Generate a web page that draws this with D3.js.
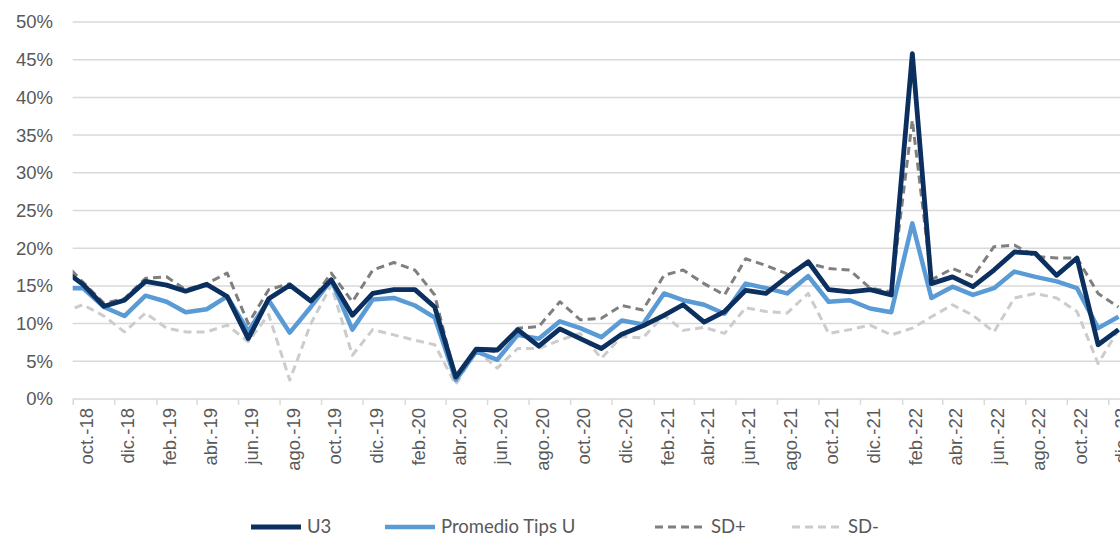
<!DOCTYPE html>
<html>
<head>
<meta charset="utf-8">
<script src="https://cdn.jsdelivr.net/npm/d3@7"></script>
<style>
  body { margin: 0; background: #fff; }
  svg { display: block; font-family: Lato, "Liberation Sans", sans-serif; }
</style>
</head>
<body>
<div id="chart"></div>
<script>
// monthly series, first value is sep-18 (partly cut by the axis start), last is dic-22
var firstMonth = new Date(2018, 8, 16);
var u3 = [17.2, 15.2, 12.3, 13.1, 15.6, 15.1, 14.3, 15.2, 13.6, 8.0, 13.3, 15.1, 13.0, 15.8, 11.1, 14.0, 14.5, 14.5, 12.2,
  2.9, 6.6, 6.5, 9.2, 7.0, 9.3, 8.0, 6.7, 8.6, 9.7, 11.1, 12.5, 10.2, 11.6, 14.4, 14.0, 16.2, 18.2, 14.5, 14.2, 14.5, 13.8,
  45.8, 15.3, 16.2, 14.9, 17.1, 19.5, 19.3, 16.4, 18.7, 7.2, 9.2];
var promedioTipsU = [14.7, 14.7, 12.2, 11.0, 13.7, 12.9, 11.5, 11.9, 13.6, 9.0, 13.1, 8.8, 12.2, 15.8, 9.2, 13.2, 13.4, 12.4, 10.8,
  2.5, 6.3, 5.2, 8.5, 8.0, 10.3, 9.4, 8.2, 10.4, 9.9, 14.0, 13.1, 12.5, 11.3, 15.3, 14.7, 14.0, 16.3, 12.9, 13.1, 12.0, 11.5,
  23.3, 13.4, 14.9, 13.8, 14.7, 16.9, 16.2, 15.6, 14.7, 9.4, 10.9];
var sdPlus = [18.3, 15.5, 12.7, 13.3, 16.0, 16.2, 14.5, 15.3, 16.7, 10.0, 14.5, 15.3, 12.9, 16.7, 12.9, 17.1, 18.1, 17.1, 13.8,
  2.6, 6.7, 6.2, 9.4, 9.6, 12.9, 10.5, 10.7, 12.4, 11.8, 16.4, 17.1, 15.3, 13.8, 18.6, 17.7, 16.6, 18.0, 17.3, 17.1, 14.7, 14.2,
  37.0, 15.8, 17.3, 16.2, 20.2, 20.4, 18.9, 18.7, 18.7, 14.0, 12.2];
var sdMinus = [11.5, 12.5, 11.0, 8.9, 11.4, 9.4, 8.9, 8.9, 9.8, 7.6, 11.2, 2.5, 10.0, 15.1, 5.8, 9.2, 8.5, 7.8, 7.2,
  1.9, 6.5, 4.1, 6.7, 6.7, 7.8, 8.7, 5.4, 8.3, 8.1, 11.1, 9.1, 9.5, 8.7, 12.1, 11.6, 11.4, 14.0, 8.7, 9.2, 9.8, 8.5,
  9.4, 10.9, 12.5, 11.1, 8.9, 13.4, 14.0, 13.4, 11.6, 4.7, 9.2];
var monthNames = ["ene.", "feb.", "mar.", "abr.", "may.", "jun.", "jul.", "ago.", "sep.", "oct.", "nov.", "dic."];
var yTicks = [0, 5, 10, 15, 20, 25, 30, 35, 40, 45, 50];

var series = [
  { name: "U3", values: u3, color: "#0b2f5e", width: 4.8, dash: null },
  { name: "Promedio Tips U", values: promedioTipsU, color: "#5b9bd5", width: 4.5, dash: null },
  { name: "SD+", values: sdPlus, color: "#7f7f7f", width: 3, dash: "8,5" },
  { name: "SD-", values: sdMinus, color: "#cccccc", width: 3, dash: "8,5" }
];

const width = 1120;
const height = 537;
const plotLeft = 72.7;
const plotTop = 22;
const plotBottom = 399;
const fontSize = "18.5px";

var dates = u3.map(function(d, i) { return d3.timeMonth.offset(firstMonth, i); });

var x = d3.scaleTime().domain([new Date(2018, 9, 1), new Date(2022, 11, 1)]).range([plotLeft, 1108.3]);
var y = d3.scaleLinear().domain([0, 50]).range([plotBottom, plotTop]);

var svg = d3.select("#chart").append("svg")
  .attr("width", width)
  .attr("height", height);

svg.append("defs").append("clipPath").attr("id", "plotclip")
  .append("rect").attr("x", plotLeft).attr("y", 0).attr("width", width - plotLeft).attr("height", height);

// horizontal gridlines
svg.append("g")
  .selectAll("line")
  .data(yTicks.filter(function(d) { return d > 0; }))
  .enter().append("line")
  .attr("x1", plotLeft).attr("x2", width)
  .attr("y1", function(d) { return y(d); })
  .attr("y2", function(d) { return y(d); })
  .attr("stroke", "#d9d9d9")
  .attr("stroke-width", 1.5);

// y labels
var yAxis = svg.append("g")
  .attr("transform", "translate(" + 53 + ",0)")
  .call(d3.axisLeft(y).tickValues(yTicks).tickSize(0).tickFormat(function(d) { return d + "%"; }));
yAxis.select(".domain").remove();
yAxis.selectAll("text")
  .attr("x", 0)
  .attr("fill", "#595959")
  .style("font-size", fontSize);

// x axis
var tickDates = d3.timeMonth.range(new Date(2018, 9, 1), new Date(2023, 0, 2), 2);
var xAxis = svg.append("g")
  .attr("transform", "translate(0," + plotBottom + ")")
  .call(d3.axisBottom(x).tickValues(tickDates).tickSize(6).tickSizeOuter(0)
    .tickFormat(function(d) { return monthNames[d.getMonth()] + "-" + String(d.getFullYear()).slice(2); }));
xAxis.select(".domain").attr("d", "M" + plotLeft + ",0H" + width).attr("stroke", "#d9d9d9").attr("stroke-width", 1.5);
xAxis.selectAll(".tick line").attr("stroke", "#d9d9d9").attr("stroke-width", 1.5);
xAxis.selectAll(".tick text")
  .attr("fill", "#595959")
  .style("font-size", fontSize)
  .attr("text-anchor", "end")
  .attr("y", 0)
  .attr("dy", "0.35em")
  .attr("transform", "translate(13,9) rotate(-90)");

// series lines, drawn back to front
var line = d3.line()
  .x(function(d, i) { return x(dates[i]); })
  .y(function(d) { return y(d); });

var plot = svg.append("g").attr("clip-path", "url(#plotclip)");
series.slice().reverse().forEach(function(s) {
  plot.append("path")
    .datum(s.values)
    .attr("fill", "none")
    .attr("stroke", s.color)
    .attr("stroke-width", s.width)
    .attr("stroke-dasharray", s.dash)
    .attr("stroke-linejoin", "round")
    .attr("d", line);
});

// legend
var legendX = [251, 385, 655, 792];
var legend = svg.append("g").attr("transform", "translate(0,527)");
var item = legend.selectAll("g")
  .data(series)
  .enter().append("g")
  .attr("transform", function(d, i) { return "translate(" + legendX[i] + ",0)"; });
item.append("line")
  .attr("x1", 0).attr("x2", 50)
  .attr("stroke", function(d) { return d.color; })
  .attr("stroke-width", function(d) { return d.width; })
  .attr("stroke-dasharray", function(d) { return d.dash; });
item.append("text")
  .attr("x", 56)
  .attr("dy", "0.35em")
  .attr("fill", "#595959")
  .style("font-size", fontSize)
  .text(function(d) { return d.name; });
</script>
</body>
</html>
